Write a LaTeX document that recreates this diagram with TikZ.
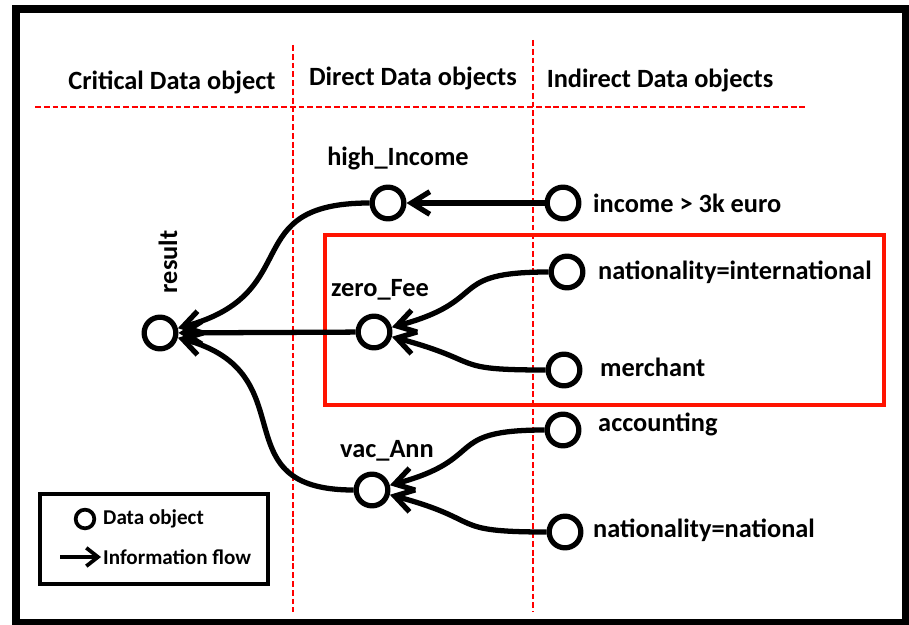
\documentclass[tikz,border=0pt]{standalone}
\usepackage{fontspec}
\setmainfont{Carlito}
\usetikzlibrary{arrows.meta,positioning}

\begin{document}
\begin{tikzpicture}[
        x=0.03cm, y=-0.03cm,
        font=\fontsize{22.5}{26}\selectfont\bfseries,
        obj/.style={
            draw, circle, line width=4.5pt,
            minimum size=0.95cm, inner sep=0pt
        },
        smallobj/.style={
            draw, circle, line width=3.2pt,
            minimum size=0.56cm, inner sep=0pt
        },
        txt/.style={anchor=west, inner sep=0pt},
        flow/.style={-{Straight Barb[length=0.55cm,width=0.68cm]}, line width=4.5pt},
        sep/.style={red, dashed, line width=1.6pt, dash pattern=on 5pt off 2.5pt},
        focus/.style={draw=red!85!orange, line width=2.6pt}
        ]

        \useasboundingbox (0,0) rectangle (909,625);
        \draw[line width=6.8pt] (16,9) rectangle (906,623);

        % --- Column separators ---
        \draw[sep] (293,45) -- (293,612);
        \draw[sep] (533,40) -- (533,612);
        \draw[sep] (35,107) -- (808,107);

        % --- Headers ---
        \node (hcrit) at (172,82) {Critical Data object};
        \node (hdir) at (413,78) {Direct Data objects};
        \node (hind) at (660,80) {Indirect Data objects};

        % --- Highlight box ---
        \draw[focus] (325,235) rectangle (884,405);

        % --- Data objects ---
        \node[obj] (res) at (160,333) {};
        \node[obj] (hi) at (388,203) {};
        \node[obj] (zf) at (374,332) {};
        \node[obj] (va) at (372,490) {};
        \node[obj] (inc) at (563,203) {};
        \node[obj] (ni) at (567,272) {};
        \node[obj] (me) at (564,370) {};
        \node[obj] (ac) at (563,430) {};
        \node[obj] (nn) at (565,532) {};

        % --- Labels ---
        \node[rotate=90] (lres) at (168,262) {result};
        \node (lhi) at (398,158) {high\_Income};
        \node (lzf) at (380,290) {zero\_Fee};
        \node (lva) at (387,451) {vac\_Ann};
        \node[txt] (linc) at (593,203) {income > 3k euro};
        \node[txt] (lni) at (598,272) {nationality=international};
        \node[txt] (lme) at (600,367) {merchant};
        \node[txt] (lac) at (598,424) {accounting};
        \node[txt] (lnn) at (593,530) {nationality=national};

        % --- Information flow ---
        \draw[flow] (inc) -- (hi);
        \draw[flow] (ni) to[out=180,in=15,looseness=1.6] (zf);
        \draw[flow] (me) to[out=180,in=-15,looseness=1.6] (zf);
        \draw[flow] (ac) to[out=180,in=15,looseness=1.6] (va);
        \draw[flow] (nn) to[out=180,in=-15,looseness=1.6] (va);
        \draw[flow] (hi) to[out=180,in=15,looseness=1.5] (res);
        \draw[flow] (zf) -- (res);
        \draw[flow] (va) to[out=180,in=-15,looseness=1.5] (res);

        % --- Legend ---
        \draw[line width=3.6pt] (40,494) rectangle (268,584);
        \node[smallobj] (kobj) at (85,519) {};
        \coordinate (kfrom) at (60,557);
        \coordinate (kto) at (101,557);
        \draw[-{Straight Barb[length=0.35cm,width=0.55cm]}, line width=3.2pt] (kfrom) -- (kto);
        \node[txt, font=\fontsize{18}{21}\selectfont\bfseries] (lkobj) at (103,519) {Data object};
        \node[txt, font=\fontsize{18}{21}\selectfont\bfseries] (lkto) at (103,557) {Information flow};

    \end{tikzpicture}
\end{document}
